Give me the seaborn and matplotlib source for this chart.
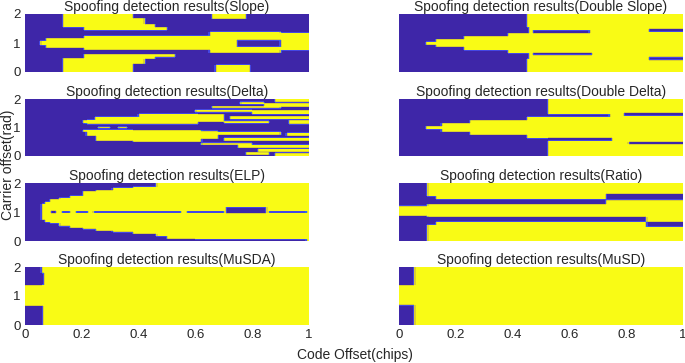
import numpy as np
import pandas as pd
import matplotlib
matplotlib.use("Agg")
import matplotlib.pyplot as plt
from matplotlib.colors import LinearSegmentedColormap
import seaborn as sns

# ---------------- data: detected (yellow) regions and missed (blue) regions ----------------
# each rectangle: (code offset start, code offset end, carrier offset low, carrier offset high)
titles = ["Slope", "Double Slope", "Delta", "Double Delta", "ELP", "Ratio", "MuSDA", "MuSD"]

slope_yes = [
    (0.053, 0.076, 0.92, 1.09), (0.076, 0.21, 0.83, 1.17), (0.21, 0.65, 0.78, 1.26),
    (0.65, 0.745, 0.66, 1.40), (0.745, 0.90, 0.66, 0.88), (0.745, 0.90, 1.10, 1.40),
    (0.90, 1.0, 0.76, 1.36),
    (0.135, 0.21, 1.55, 2.0), (0.21, 0.38, 1.44, 2.0), (0.38, 0.42, 1.44, 1.85),
    (0.42, 0.46, 1.44, 1.65), (0.46, 0.50, 1.44, 1.54),
    (0.135, 0.21, 0.0, 0.48), (0.21, 0.38, 0.0, 0.60), (0.38, 0.42, 0.30, 0.60),
    (0.42, 0.46, 0.46, 0.60), (0.46, 0.53, 0.52, 0.60),
    (0.66, 0.78, 1.84, 2.0), (0.67, 0.79, 0.0, 0.25),
]
slope_no = []

dslope_yes = [
    (0.096, 0.13, 0.94, 1.05), (0.13, 0.23, 0.88, 1.13), (0.23, 0.385, 0.76, 1.23),
    (0.385, 0.46, 0.65, 1.34), (0.46, 1.0, 0.0, 2.0),
    (0.45, 0.46, 1.55, 2.0), (0.45, 0.46, 0.0, 0.45),
]
dslope_no = [
    (0.47, 0.67, 1.34, 1.44), (0.47, 0.68, 0.58, 0.67),
    (0.88, 1.0, 1.40, 1.50), (0.88, 1.0, 0.42, 0.52),
]

delta_yes = [
    (0.205, 0.215, 1.15, 1.25), (0.215, 0.245, 1.13, 1.28), (0.245, 0.40, 1.13, 1.37),
    (0.40, 0.61, 1.13, 1.48), (0.61, 0.70, 1.20, 1.45),
    (0.205, 0.215, 0.85, 0.92), (0.215, 0.25, 0.70, 0.92), (0.25, 0.38, 0.55, 0.92),
    (0.38, 0.62, 0.49, 0.90), (0.62, 0.68, 0.60, 0.88),
    (0.26, 0.30, 0.98, 1.03), (0.33, 0.36, 0.98, 1.03),
    (0.60, 0.80, 1.55, 1.62), (0.66, 0.90, 1.68, 1.75), (0.72, 1.0, 1.30, 1.40),
    (0.70, 0.86, 1.15, 1.22), (0.80, 1.0, 1.45, 1.60), (0.84, 1.0, 1.72, 1.85),
    (0.88, 1.0, 1.90, 2.0), (0.93, 1.0, 1.12, 1.25), (0.76, 0.84, 1.82, 1.90),
    (0.66, 0.90, 0.75, 0.85), (0.70, 1.0, 0.55, 0.65), (0.62, 0.80, 0.40, 0.46),
    (0.75, 1.0, 0.30, 0.40), (0.82, 1.0, 0.15, 0.25), (0.88, 1.0, 0.0, 0.10),
    (0.92, 1.0, 0.70, 0.82), (0.78, 0.86, 0.05, 0.12),
]
delta_no = []

ddelta_yes = [
    (0.096, 0.15, 0.94, 1.05), (0.15, 0.25, 0.85, 1.15), (0.25, 0.45, 0.74, 1.26),
    (0.45, 0.525, 0.62, 1.38), (0.525, 1.0, 0.0, 2.0),
]
ddelta_no = [
    (0.525, 0.74, 1.37, 1.46), (0.79, 1.0, 1.42, 1.52),
    (0.525, 0.75, 0.55, 0.64), (0.81, 1.0, 0.41, 0.50),
]

elp_yes = [
    (0.06, 0.07, 0.72, 1.30), (0.07, 0.088, 0.65, 1.36), (0.088, 0.12, 0.60, 1.44),
    (0.12, 0.158, 0.52, 1.50), (0.158, 0.205, 0.45, 1.56), (0.205, 0.25, 0.42, 1.71),
    (0.25, 0.31, 0.36, 1.76), (0.31, 0.38, 0.31, 1.83), (0.38, 0.463, 0.25, 1.88),
    (0.463, 0.5, 0.16, 2.0), (0.5, 0.6, 0.09, 2.0), (0.6, 0.99, 0.06, 2.0),
    (0.99, 1.0, 0.0, 2.0),
]
elp_no = [
    (0.09, 0.11, 0.96, 1.04), (0.13, 0.16, 0.97, 1.03), (0.18, 0.22, 0.97, 1.03),
    (0.24, 0.55, 0.97, 1.03), (0.57, 0.70, 0.97, 1.03), (0.71, 0.85, 0.95, 1.16),
    (0.86, 0.99, 0.97, 1.03),
]

ratio_yes = [
    (0.0, 0.10, 0.88, 1.20), (0.10, 0.73, 0.84, 1.28), (0.73, 0.87, 0.84, 1.42),
    (0.87, 1.0, 0.66, 1.42), (0.10, 0.73, 1.55, 2.0), (0.13, 0.73, 1.44, 1.55),
    (0.73, 1.0, 1.63, 2.0), (0.10, 0.87, 0.0, 0.56), (0.13, 0.87, 0.56, 0.66),
    (0.87, 1.0, 0.0, 0.49),
]
ratio_no = []

musda_yes = [(0.0, 1.0, 0.0, 2.0)]
musda_no = [(0.0, 0.06, 1.37, 2.0), (0.06, 0.067, 1.40, 1.80), (0.0, 0.062, 0.0, 0.66)]

musd_yes = [(0.0, 1.0, 0.0, 2.0)]
musd_no = [(0.0, 0.055, 1.37, 2.0), (0.0, 0.055, 0.0, 0.69)]

panels = [
    (slope_yes, slope_no), (dslope_yes, dslope_no),
    (delta_yes, delta_no), (ddelta_yes, ddelta_no),
    (elp_yes, elp_no), (ratio_yes, ratio_no),
    (musda_yes, musda_no), (musd_yes, musd_no),
]

x_ticks = [0, 0.2, 0.4, 0.6, 0.8, 1]
x_tick_labels = ["0", "0.2", "0.4", "0.6", "0.8", "1"]
y_ticks = [0, 1, 2]
y_tick_labels = ["0", "1", "2"]

# ---------------- build grids ----------------
NX, NY = 240, 96
xs = (np.arange(NX) + 0.5) / NX
ys = 2.0 - (np.arange(NY) + 0.5) / NY * 2.0   # row 0 = carrier offset 2 (top)


def build(yes, no):
    Z = np.zeros((NY, NX))
    for x0, x1, y0, y1 in yes:
        m = np.outer((ys >= y0) & (ys < y1), (xs >= x0) & (xs < x1))
        Z[m] = 1.0
    for x0, x1, y0, y1 in no:
        m = np.outer((ys >= y0) & (ys < y1), (xs >= x0) & (xs < x1))
        Z[m] = 0.0
    P = np.pad(Z, 1, mode="edge")
    Zs = (4 * P[1:-1, 1:-1] + P[:-2, 1:-1] + P[2:, 1:-1] + P[1:-1, :-2] + P[1:-1, 2:]) / 8.0
    return pd.DataFrame(Zs)


parula = LinearSegmentedColormap.from_list("parula_like", [
    (0.0, (0.2422, 0.1504, 0.6603)),
    (0.15, (0.2706, 0.3047, 0.9358)),
    (0.35, (0.0780, 0.5620, 0.9000)),
    (0.5, (0.0900, 0.7100, 0.8100)),
    (0.65, (0.3500, 0.7900, 0.5200)),
    (0.82, (0.8000, 0.7400, 0.2400)),
    (1.0, (0.9769, 0.9839, 0.0805)),
])

# ---------------- plot ----------------
sns.set_style("white")
plt.rcParams["font.family"] = ["Liberation Sans", "DejaVu Sans"]

fig = plt.figure(figsize=(6.85, 3.63), dpi=100)
lefts = [25 / 685, 399 / 685]
width = 284 / 685
rows_px = [(14, 72), (99, 156), (183, 241), (267, 325)]

for i, ((yes, no), name) in enumerate(zip(panels, titles)):
    r, c = divmod(i, 2)
    top, bot = rows_px[r]
    ax = fig.add_axes([lefts[c], 1 - bot / 363, width, (bot - top) / 363])
    df = build(yes, no)
    sns.heatmap(df, ax=ax, cmap=parula, vmin=0, vmax=1, cbar=False,
                xticklabels=False, yticklabels=False, rasterized=True)
    ax.set_xlim(0, NX)
    ax.set_ylim(NY, 0)
    ax.set_title(f"Spoofing detection results({name})", fontsize=10, pad=2)
    ax.tick_params(length=0, labelsize=9.5, pad=3)
    if c == 0:
        ax.set_yticks([NY - v / 2 * NY for v in y_ticks])
        ax.set_yticklabels(y_tick_labels, rotation=0)
    else:
        ax.set_yticks([])
    if r == 3:
        ax.set_xticks([v * NX for v in x_ticks])
        ax.set_xticklabels(x_tick_labels, rotation=0)
    else:
        ax.set_xticks([])
    for s in ax.spines.values():
        s.set_visible(False)

fig.text(0.012, 0.545, "Carrier offset(rad)", rotation=90, ha="center", va="center", fontsize=10)
fig.text(0.518, 0.022, "Code Offset(chips)", ha="center", va="center", fontsize=10)

fig.savefig("out.png", dpi=100)
